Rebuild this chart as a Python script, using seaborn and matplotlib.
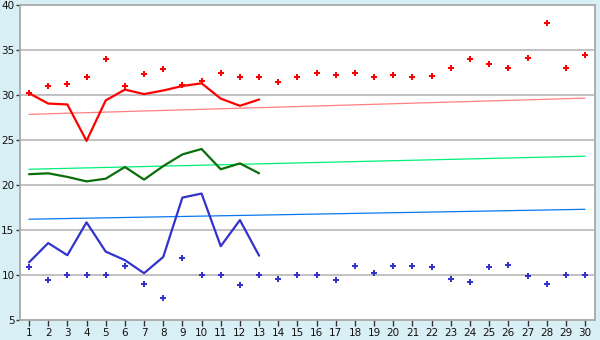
import matplotlib
matplotlib.use("Agg")
import matplotlib.pyplot as plt
import seaborn as sns
import pandas as pd
import numpy as np

days = list(range(1, 31))
days13 = list(range(1, 14))

red_points = [30.2, 31.0, 31.2, 32.0, 34.0, 31.0, 32.3, 32.85, 31.1, 31.55,
              32.5, 32.0, 32.0, 31.5, 32.0, 32.5, 32.2, 32.5, 32.0, 32.2,
              32.0, 32.1, 33.0, 34.0, 33.5, 33.0, 34.1, 38.0, 33.0, 34.4]
blue_points = [10.9, 9.5, 10.0, 10.0, 10.0, 11.0, 9.0, 7.4, 11.9, 10.0,
               10.0, 8.85, 10.0, 9.6, 10.0, 10.0, 9.4, 11.0, 10.2, 11.0,
               11.0, 10.85, 9.6, 9.2, 10.85, 11.1, 9.85, 9.0, 10.0, 10.0]

red_line = [30.2, 29.05, 28.95, 24.9, 29.4, 30.6, 30.1, 30.5, 31.0, 31.3, 29.6, 28.8, 29.5]
green_line = [21.2, 21.3, 20.9, 20.4, 20.7, 22.0, 20.6, 22.1, 23.4, 24.0, 21.75, 22.4, 21.3]
blue_line = [11.4, 13.55, 12.2, 15.85, 12.6, 11.65, 10.2, 12.0, 18.6, 19.05, 13.2, 16.1, 12.15]

trend_days = [1, 30]
red_trend = [27.85, 29.65]
green_trend = [21.75, 23.2]
blue_trend = [16.2, 17.3]

y_ticks = [5, 10, 15, 20, 25, 30, 35, 40]

sns.set_style("white")
plt.rcParams['font.family'] = ['DejaVu Sans']

bg = "#d9eff6"
fig = plt.figure(figsize=(6, 3.4), dpi=100, facecolor=bg)
ax = fig.add_axes([20/600, 20/340, 575/600, 315/340])
ax.set_facecolor("white")

for yv in y_ticks[1:-1]:
    ax.axhline(yv, color="#b0b0b0", lw=1.1, zorder=0)

sns.lineplot(x=trend_days, y=red_trend, color="#ff8080", lw=0.9, ax=ax)
sns.lineplot(x=trend_days, y=green_trend, color="#00f07a", lw=0.9, ax=ax)
sns.lineplot(x=trend_days, y=blue_trend, color="#0a78f0", lw=0.9, ax=ax)

sns.lineplot(x=days13, y=red_line, color="#ff0000", lw=1.6, ax=ax)
sns.lineplot(x=days13, y=green_line, color="#0a6e0a", lw=1.6, ax=ax)
sns.lineplot(x=days13, y=blue_line, color="#3333cc", lw=1.6, ax=ax)

sns.scatterplot(x=days, y=red_points, color="#ff0000", marker="P", s=24,
                linewidth=0, ax=ax, zorder=5)
sns.scatterplot(x=days, y=blue_points, color="#3333cc", marker="P", s=20,
                linewidth=0, ax=ax, zorder=5)

ax.set_xlim(0.53, 30.52)
ax.set_ylim(5, 40)
ax.set_xticks(days)
ax.set_xticklabels([str(d) for d in days])
ax.set_yticks(y_ticks)
ax.set_yticklabels([str(v) for v in y_ticks])
ax.tick_params(axis="both", direction="out", width=1, color="#333333",
               labelsize=7.5, labelcolor="#111111")
ax.tick_params(axis="x", bottom=True, length=4, pad=2)
ax.tick_params(axis="y", left=True, length=3, pad=1)

for s in ax.spines.values():
    s.set_color("#a8a8a8")
    s.set_linewidth(1.3)

fig.savefig("out.png", dpi=100, facecolor=bg)
